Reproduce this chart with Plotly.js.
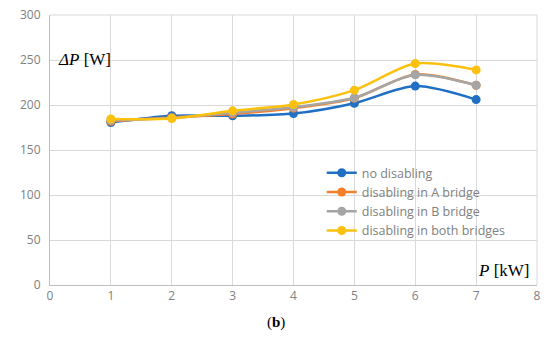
<!DOCTYPE html>
<html>
<head>
<meta charset="utf-8">
<script src="https://cdn.plot.ly/plotly-3.0.1.min.js"></script>
<style>html,body{margin:0;padding:0;background:#fff;}#chart{width:550px;height:340px;}</style>
</head>
<body>
<div id="chart"></div>
<script>
const P = [1, 2, 3, 4, 5, 6, 7];
const noDisabling = [180.5, 188, 188, 190.5, 202, 221, 206];
const disablingA = [182, 186, 190, 196.5, 207.5, 234, 222];
const disablingB = [183, 185.5, 191.5, 197.5, 208, 233.5, 222];
const disablingBoth = [184.5, 185, 193.5, 200.5, 216.5, 246, 239];
const seriesNames = ['no disabling', 'disabling in A bridge', 'disabling in B bridge', 'disabling in both bridges'];
const seriesColors = ['#1f6fc5', '#f47f2a', '#a5a5a5', '#fcc10e'];
const seriesData = [noDisabling, disablingA, disablingB, disablingBoth];

const traces = seriesData.map((y, i) => ({
  x: P, y: y, name: seriesNames[i], type: 'scatter', mode: 'lines+markers',
  line: {color: seriesColors[i], width: 2.5, shape: 'spline', smoothing: 0.8},
  marker: {color: seriesColors[i], size: 9}
}));

const layout = {
  width: 550, height: 340,
  margin: {l: 50, r: 13, t: 15, b: 55},
  paper_bgcolor: '#fff', plot_bgcolor: '#fff',
  font: {family: 'Open Sans, Liberation Sans, sans-serif', size: 12, color: '#7f7f7f'},
  xaxis: {
    range: [0, 8], dtick: 1, tick0: 0, showgrid: true, gridcolor: '#d9d9d9', gridwidth: 1,
    zeroline: false, showline: true, linecolor: '#bfbfbf', mirror: false, ticks: '',
    tickfont: {size: 12, color: '#808080'}, fixedrange: true
  },
  yaxis: {
    range: [0, 300], dtick: 50, tick0: 0, showgrid: true, gridcolor: '#d9d9d9', gridwidth: 1,
    zeroline: false, showline: true, linecolor: '#bfbfbf', ticks: '',
    tickfont: {size: 12, color: '#808080'}, ticklabelstandoff: 6
  },
  showlegend: true,
  legend: {
    x: 0.558, y: 0.47, xanchor: 'left', yanchor: 'top',
    bgcolor: 'rgba(255,255,255,0)', tracegroupgap: 0,
    font: {size: 12.5, color: '#808080'}, itemwidth: 30
  },
  annotations: [
    {xref: 'paper', yref: 'paper', x: 0.012, y: 0.835, xanchor: 'left', yanchor: 'middle', showarrow: false,
     text: '<i>ΔP</i> [W]', font: {family: 'Liberation Serif, serif', size: 17, color: '#000'}},
    {xref: 'paper', yref: 'paper', x: 0.99, y: 0.055, xanchor: 'right', yanchor: 'middle', showarrow: false,
     text: '<i>P</i> [kW]', font: {family: 'Liberation Serif, serif', size: 17, color: '#000'}},
    {xref: 'paper', yref: 'paper', x: 0.465, y: -0.14, xanchor: 'center', yanchor: 'middle', showarrow: false,
     text: '(<b>b</b>)', font: {family: 'Liberation Serif, serif', size: 15, color: '#000'}}
  ],
  shapes: [
    {type: 'line', xref: 'paper', yref: 'paper', x0: 1, x1: 1, y0: 0, y1: 1, line: {color: '#d9d9d9', width: 1}},
    {type: 'line', xref: 'paper', yref: 'paper', x0: 0, x1: 1, y0: 1, y1: 1, line: {color: '#d9d9d9', width: 1}}
  ]
};

Plotly.newPlot('chart', traces, layout, {displayModeBar: false, staticPlot: true});
</script>
</body>
</html>
